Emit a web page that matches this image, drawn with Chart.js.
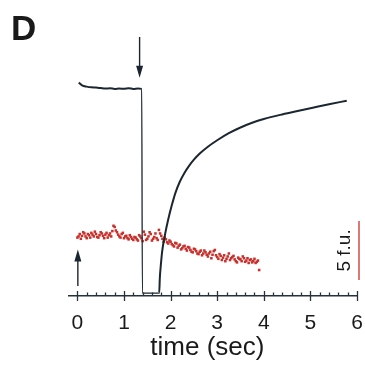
<!DOCTYPE html>
<html><head><meta charset="utf-8">
<script src="https://cdn.jsdelivr.net/npm/chart.js@4/dist/chart.umd.min.js"></script>
<style>html,body{margin:0;padding:0;background:#fff;overflow:hidden;}#wrap{width:365px;height:366px;position:relative;}canvas{display:block;}</style>
</head><body><div id="wrap"><canvas id="c"></canvas></div>
<script>
// Black trace (fluorescence, f.u.)
const blackT = [0.03,0.10,0.20,0.30,0.40,0.50,0.60,0.70,0.80,0.90,1.00,1.10,1.20,1.30,1.38,1.395,1.755,1.77,1.79,1.82,1.88,1.95,2.02,2.10,2.20,2.30,2.40,2.50,2.62,2.80,3.00,3.25,3.50,3.75,4.00,4.35,4.70,5.05,5.40,5.78];
const blackV = [18.08,17.85,17.74,17.68,17.66,17.62,17.58,17.60,17.55,17.58,17.56,17.60,17.55,17.58,17.55,0.25,0.25,1.6,2.6,3.8,5.2,6.5,7.6,8.7,9.7,10.45,11.05,11.55,12.05,12.65,13.2,13.8,14.28,14.68,15.0,15.35,15.65,15.95,16.25,16.55];
// Red trace (points), two interleaved sweeps
const redT = [0.00,0.05,0.10,0.15,0.20,0.25,0.30,0.35,0.40,0.45,0.50,0.55,0.60,0.65,0.70,0.75,0.80,0.85,0.90,0.95,1.00,1.05,1.10,1.15,1.20,1.25,1.30,1.35,1.40,1.45,1.50,1.55,1.60,1.65,1.70,1.75,1.80,1.85,1.90,1.95,2.00,2.05,2.10,2.15,2.20,2.25,2.30,2.35,2.40,2.45,2.50,2.55,2.60,2.65,2.70,2.75,2.80,2.85,2.90,2.95,3.00,3.05,3.10,3.15,3.20,3.25,3.30,3.35,3.40,3.45,3.50,3.55,3.60,3.65,3.70,3.75,3.80,3.85,3.90];
const redV = [4.95,5.25,5.10,5.30,4.90,5.15,5.35,5.05,5.25,4.95,5.40,5.10,5.20,4.95,5.30,5.50,5.85,5.40,5.05,5.25,4.90,5.10,4.80,5.00,4.75,4.95,4.70,5.05,4.65,5.20,4.85,5.40,4.70,5.00,4.90,5.60,5.10,4.60,4.80,4.45,4.60,4.30,4.50,4.10,4.35,4.05,4.25,3.85,4.10,3.75,4.00,3.80,3.55,3.85,3.60,3.70,3.35,3.75,3.50,3.90,3.30,3.55,3.05,3.45,3.15,3.60,3.20,3.40,2.95,3.25,3.10,3.35,2.90,3.20,3.05,2.85,3.15,2.90,2.20];
const redT2 = [0.025,0.075,0.125,0.175,0.225,0.275,0.325,0.375,0.425,0.475,0.525,0.575,0.625,0.675,0.725,0.775,0.825,0.875,0.925,0.975,1.025,1.075,1.125,1.175,1.225,1.275,1.325,1.375,1.425,1.475,1.525,1.575,1.625,1.675,1.725,1.775,1.825,1.875,1.925,1.975,2.025,2.075,2.125,2.175,2.225,2.275,2.325,2.375,2.425,2.475,2.525,2.575,2.625,2.675,2.725,2.775,2.825,2.875,2.925,2.975,3.025,3.075,3.125,3.175,3.225,3.275,3.325,3.375,3.425,3.475,3.525,3.575,3.625,3.675,3.725,3.775,3.825,3.875];
const redV2 = [5.05,4.85,5.40,5.05,5.25,4.95,5.20,5.45,5.00,5.15,5.30,4.90,5.35,5.15,5.05,5.95,5.55,5.20,4.95,5.35,5.05,4.90,5.15,4.85,5.00,4.80,5.15,4.90,5.45,4.75,5.05,5.25,4.85,5.30,4.75,5.30,4.85,4.95,4.55,4.70,4.40,4.20,4.45,4.25,3.95,4.20,4.00,4.15,3.90,3.70,3.95,3.60,3.75,3.45,3.85,3.50,3.60,3.20,3.80,3.45,3.15,3.40,3.25,2.95,3.35,3.05,3.30,3.10,2.85,3.15,2.95,3.20,3.00,2.80,3.10,2.95,2.80,3.00];
const xTickValues = [0,1,2,3,4,5,6];
const xTickLabels = ['0','1','2','3','4','5','6'];
const xTitle = 'time (sec)';
const panelLabel = 'D';
const scaleBarLabel = '5 f.u.';
const scaleBarSize = 5;

const AXIS = '#25313b';
const TEXT = '#1a1a1a';
const RED = '#c8302c';
const FONT = '"Liberation Sans", Arial, Helvetica, sans-serif';

function arrow(ctx, x, y0, y1) {
  const dir = y1 > y0 ? 1 : -1;
  ctx.beginPath();
  ctx.moveTo(x, y0);
  ctx.lineTo(x, y1 - dir * 10);
  ctx.stroke();
  ctx.beginPath();
  ctx.moveTo(x, y1);
  ctx.lineTo(x - 3.5, y1 - dir * 12);
  ctx.lineTo(x + 3.5, y1 - dir * 12);
  ctx.closePath();
  ctx.fill();
}

const decor = {
  id: 'decor',
  afterDraw(chart) {
    const ctx = chart.ctx, xs = chart.scales.x, ys = chart.scales.y;
    const base = chart.chartArea.bottom;
    ctx.save();
    ctx.strokeStyle = AXIS;
    ctx.lineWidth = 1.3;
    for (let i = 0; i <= 30; i++) {
      const v = i / 5;
      const px = Math.round(xs.getPixelForValue(v)) + 0.5;
      ctx.beginPath();
      if (i % 5 === 0) { ctx.moveTo(px, base - 5); ctx.lineTo(px, base + 5); }
      else { ctx.moveTo(px, base - 3.5); ctx.lineTo(px, base); }
      ctx.stroke();
    }
    ctx.strokeStyle = '#1b2630';
    ctx.fillStyle = '#1b2630';
    ctx.lineWidth = 1.4;
    arrow(ctx, xs.getPixelForValue(1.335), ys.getPixelForValue(21.95), ys.getPixelForValue(18.5));
    arrow(ctx, xs.getPixelForValue(0.01), ys.getPixelForValue(0.85), ys.getPixelForValue(3.95));
    const sbx = chart.chartArea.right + 2;
    ctx.strokeStyle = RED;
    ctx.lineWidth = 1.3;
    ctx.beginPath();
    ctx.moveTo(sbx, ys.getPixelForValue(1.36));
    ctx.lineTo(sbx, ys.getPixelForValue(1.36 + scaleBarSize));
    ctx.stroke();
    ctx.fillStyle = TEXT;
    ctx.font = 'bold 35px ' + FONT;
    ctx.textAlign = 'left';
    ctx.textBaseline = 'alphabetic';
    ctx.fillText(panelLabel, 11, 40);
    ctx.font = '26px ' + FONT;
    ctx.textAlign = 'center';
    ctx.fillText(xTitle, xs.getPixelForValue(2.79), 355);
    ctx.save();
    ctx.translate(350, ys.getPixelForValue(1.36 + scaleBarSize / 2));
    ctx.rotate(-Math.PI / 2);
    ctx.font = '19px ' + FONT;
    ctx.textAlign = 'center';
    ctx.fillText(scaleBarLabel, 0, 0);
    ctx.restore();
    ctx.restore();
  }
};

const redPts = redT.map((t, i) => ({x: t, y: redV[i]})).concat(redT2.map((t, i) => ({x: t, y: redV2[i]})));

new Chart(document.getElementById('c'), {
  type: 'line',
  data: {
    datasets: [
      {
        label: 'black',
        data: blackT.map((t, i) => ({x: t, y: blackV[i]})),
        borderColor: '#1b2630',
        borderWidth: 2,
        pointRadius: 0,
        cubicInterpolationMode: 'monotone',
        fill: false,
        segment: {
          borderWidth: c => (c.p0.parsed.x >= 1.37 && c.p1.parsed.x <= 1.76) ? 1.3 : 2
        }
      },
      {
        label: 'red',
        data: redPts,
        showLine: false,
        pointStyle: 'rect',
        pointRadius: 1.8,
        pointBackgroundColor: RED,
        pointBorderWidth: 0,
        borderColor: RED
      }
    ]
  },
  options: {
    responsive: true,
    maintainAspectRatio: false,
    animation: false,
    devicePixelRatio: 1,
    layout: {padding: {left: 69, right: 8, top: 30, bottom: 0}},
    plugins: {legend: {display: false}, tooltip: {enabled: false}},
    scales: {
      x: {
        type: 'linear',
        min: -0.18,
        max: 6,
        afterBuildTicks: s => { s.ticks = xTickValues.map(v => ({value: v})); },
        afterFit: s => { s.height = 70; },
        grid: {display: true, drawOnChartArea: false, drawTicks: true, tickLength: 15, tickColor: 'rgba(0,0,0,0)'},
        border: {display: true, color: AXIS, width: 1.5},
        ticks: {
          padding: 0,
          color: TEXT,
          font: {family: FONT, size: 21},
          maxRotation: 0,
          autoSkip: false,
          callback: (v, i) => xTickLabels[i]
        }
      },
      y: {display: false, min: 0, max: 22.54}
    }
  },
  plugins: [decor]
});
</script>
</body></html>
